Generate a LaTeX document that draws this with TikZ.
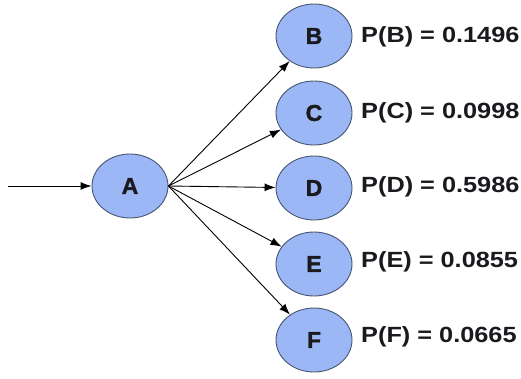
\documentclass[tikz,border=0pt]{standalone}
\usepackage{fontspec}
\setmainfont{Liberation Sans}
\newfontfamily\blackfont[BoldFeatures={FakeBold=1.5}]{Liberation Sans}
\usetikzlibrary{shapes.geometric,arrows.meta}
\definecolor{nodefill}{RGB}{155,183,245}
\definecolor{nodeline}{RGB}{70,85,115}
\definecolor{txt}{RGB}{25,25,30}
\tikzset{
  statenode/.style={ellipse,draw=nodeline,line width=0.9pt,fill=nodefill,
    minimum width=76pt,minimum height=64pt,inner sep=0pt,
    font=\blackfont\bfseries\fontsize{23}{26}\selectfont,text=txt},
  problabel/.style={anchor=west,inner sep=0pt,text=txt,
    font=\fontsize{22}{26}\selectfont\bfseries,xscale=1.15},
  edge/.style={draw=black,line width=0.9pt,-{Latex[length=11pt,width=8pt]}}
}
\begin{document}
\begin{tikzpicture}[x=1pt,y=-1pt]
\useasboundingbox (0,0) rectangle (521,378);
\node[statenode] (A) at (130,186) {A};
\node[statenode] (B) at (314,36) {B};
\node[statenode] (C) at (314,113) {C};
\node[statenode] (D) at (314,188) {D};
\node[statenode] (E) at (314,264) {E};
\node[statenode] (F) at (314,340) {F};
\coordinate (in) at (8,186);
\node[problabel] (pB) at (361,37) {P(B) = 0.1496};
\node[problabel] (pC) at (361,113) {P(C) = 0.0998};
\node[problabel] (pD) at (361,187) {P(D) = 0.5986};
\node[problabel] (pE) at (361,262) {P(E) = 0.0855};
\node[problabel] (pF) at (361,337) {P(F) = 0.0665};
\draw[edge] (in) -- (A.west);
\foreach \t in {B,C,D,E,F} \draw[edge] (A.east) -- (\t);
\end{tikzpicture}
\end{document}
